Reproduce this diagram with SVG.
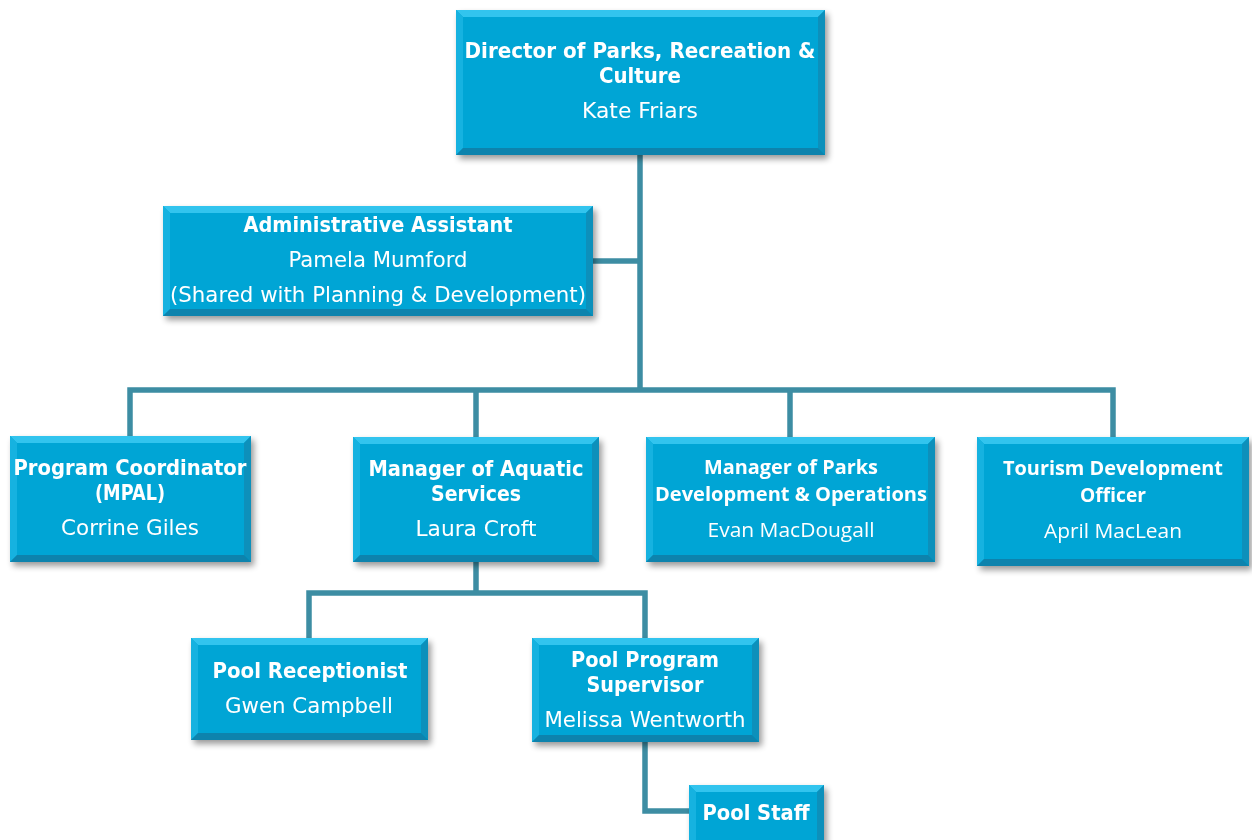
<svg xmlns="http://www.w3.org/2000/svg" width="1252" height="840" viewBox="0 0 1252 840">
  <defs>
    <filter id="shadow" x="-10%" y="-10%" width="125%" height="130%">
      <feGaussianBlur in="SourceAlpha" stdDeviation="3"/>
      <feOffset dx="3" dy="4" result="blur"/>
      <feComponentTransfer><feFuncA type="linear" slope="0.4"/></feComponentTransfer>
      <feMerge><feMergeNode/><feMergeNode in="SourceGraphic"/></feMerge>
    </filter>
  </defs>
  <style>
    .box { fill: #06A5D5; }
    .bt { fill: #30C4EE; }
    .bl { fill: #18B2E0; }
    .br { fill: #0790BB; }
    .bb { fill: #0783AD; }
    .link { fill: none; stroke: #3D8DA3; stroke-width: 5.5; stroke-linejoin: miter; }
    text { fill: #FFFFFF; text-anchor: middle; font-family: "DejaVu Sans", "Open Sans", sans-serif; }
    .t { font-weight: bold; font-size: 22px; }
    .n { font-size: 22px; }
    .tc { font-family: "Open Sans", "Lato", sans-serif; font-weight: bold; font-size: 20px; }
    .nc { font-family: "Open Sans", "Lato", sans-serif; font-size: 20px; }
  </style>

  <rect width="1252" height="840" fill="#FFFFFF"/>

  <!-- connectors -->
  <g id="connectors">
    <path class="link" d="M640,155 V390"/>
    <path class="link" d="M593,261 H640"/>
    <path class="link" d="M130,437 V390 H1113 V437"/>
    <path class="link" d="M476,390 V437"/>
    <path class="link" d="M790,390 V437"/>
    <path class="link" d="M476,562 V593"/>
    <path class="link" d="M309,638 V593 H645 V638"/>
    <path class="link" d="M645,742 V811 H689"/>
  </g>

  <!-- Director -->
  <g id="director" filter="url(#shadow)">
    <g transform="translate(456,10)">
      <rect class="box" width="369" height="145"/>
      <polygon class="bt" points="0,0 369,0 362,7 7,7"/>
      <polygon class="bl" points="0,0 7,7 7,138 0,145"/>
      <polygon class="br" points="369,0 369,145 362,138 362,7"/>
      <polygon class="bb" points="0,145 369,145 362,138 7,138"/>
    </g>
    <text class="t" x="640" y="58" textLength="351" lengthAdjust="spacingAndGlyphs">Director of Parks, Recreation &amp;</text>
    <text class="t" x="640" y="83" textLength="82" lengthAdjust="spacingAndGlyphs">Culture</text>
    <text class="n" x="640" y="118" textLength="116" lengthAdjust="spacingAndGlyphs">Kate Friars</text>
  </g>

  <!-- Administrative Assistant -->
  <g id="admin" filter="url(#shadow)">
    <g transform="translate(163,206)">
      <rect class="box" width="430" height="110"/>
      <polygon class="bt" points="0,0 430,0 423,7 7,7"/>
      <polygon class="bl" points="0,0 7,7 7,103 0,110"/>
      <polygon class="br" points="430,0 430,110 423,103 423,7"/>
      <polygon class="bb" points="0,110 430,110 423,103 7,103"/>
    </g>
    <text class="t" x="378" y="232" textLength="269" lengthAdjust="spacingAndGlyphs">Administrative Assistant</text>
    <text class="n" x="378" y="267" textLength="179" lengthAdjust="spacingAndGlyphs">Pamela Mumford</text>
    <text class="n" x="378" y="302" textLength="416" lengthAdjust="spacingAndGlyphs">(Shared with Planning &amp; Development)</text>
  </g>

  <!-- Program Coordinator -->
  <g id="program-coordinator" filter="url(#shadow)">
    <g transform="translate(10,436)">
      <rect class="box" width="241" height="126"/>
      <polygon class="bt" points="0,0 241,0 234,7 7,7"/>
      <polygon class="bl" points="0,0 7,7 7,119 0,126"/>
      <polygon class="br" points="241,0 241,126 234,119 234,7"/>
      <polygon class="bb" points="0,126 241,126 234,119 7,119"/>
    </g>
    <text class="t" x="130" y="475" textLength="233" lengthAdjust="spacingAndGlyphs">Program Coordinator</text>
    <text class="t" x="130" y="500" textLength="70" lengthAdjust="spacingAndGlyphs">(MPAL)</text>
    <text class="n" x="130" y="535" textLength="138" lengthAdjust="spacingAndGlyphs">Corrine Giles</text>
  </g>

  <!-- Manager of Aquatic Services -->
  <g id="aquatic-manager" filter="url(#shadow)">
    <g transform="translate(353,437)">
      <rect class="box" width="246" height="125"/>
      <polygon class="bt" points="0,0 246,0 239,7 7,7"/>
      <polygon class="bl" points="0,0 7,7 7,118 0,125"/>
      <polygon class="br" points="246,0 246,125 239,118 239,7"/>
      <polygon class="bb" points="0,125 246,125 239,118 7,118"/>
    </g>
    <text class="t" x="476" y="476" textLength="215" lengthAdjust="spacingAndGlyphs">Manager of Aquatic</text>
    <text class="t" x="476" y="501" textLength="90" lengthAdjust="spacingAndGlyphs">Services</text>
    <text class="n" x="476" y="536" textLength="121" lengthAdjust="spacingAndGlyphs">Laura Croft</text>
  </g>

  <!-- Manager of Parks Development & Operations -->
  <g id="parks-manager" filter="url(#shadow)">
    <g transform="translate(646,437)">
      <rect class="box" width="289" height="125"/>
      <polygon class="bt" points="0,0 289,0 282,7 7,7"/>
      <polygon class="bl" points="0,0 7,7 7,118 0,125"/>
      <polygon class="br" points="289,0 289,125 282,118 282,7"/>
      <polygon class="bb" points="0,125 289,125 282,118 7,118"/>
    </g>
    <text class="tc" x="791" y="474" textLength="174" lengthAdjust="spacingAndGlyphs">Manager of Parks</text>
    <text class="tc" x="791" y="501" textLength="272" lengthAdjust="spacingAndGlyphs">Development &amp; Operations</text>
    <text class="nc" x="791" y="537" textLength="167" lengthAdjust="spacingAndGlyphs">Evan MacDougall</text>
  </g>

  <!-- Tourism Development Officer -->
  <g id="tourism-officer" filter="url(#shadow)">
    <g transform="translate(977,437)">
      <rect class="box" width="272" height="129"/>
      <polygon class="bt" points="0,0 272,0 265,7 7,7"/>
      <polygon class="bl" points="0,0 7,7 7,122 0,129"/>
      <polygon class="br" points="272,0 272,129 265,122 265,7"/>
      <polygon class="bb" points="0,129 272,129 265,122 7,122"/>
    </g>
    <text class="tc" x="1113" y="475" textLength="220" lengthAdjust="spacingAndGlyphs">Tourism Development</text>
    <text class="tc" x="1113" y="502" textLength="66" lengthAdjust="spacingAndGlyphs">Officer</text>
    <text class="nc" x="1113" y="538" textLength="138" lengthAdjust="spacingAndGlyphs">April MacLean</text>
  </g>

  <!-- Pool Receptionist -->
  <g id="pool-receptionist" filter="url(#shadow)">
    <g transform="translate(191,638)">
      <rect class="box" width="237" height="102"/>
      <polygon class="bt" points="0,0 237,0 230,7 7,7"/>
      <polygon class="bl" points="0,0 7,7 7,95 0,102"/>
      <polygon class="br" points="237,0 237,102 230,95 230,7"/>
      <polygon class="bb" points="0,102 237,102 230,95 7,95"/>
    </g>
    <text class="t" x="310" y="678" textLength="195" lengthAdjust="spacingAndGlyphs">Pool Receptionist</text>
    <text class="n" x="309" y="713" textLength="168" lengthAdjust="spacingAndGlyphs">Gwen Campbell</text>
  </g>

  <!-- Pool Program Supervisor -->
  <g id="pool-supervisor" filter="url(#shadow)">
    <g transform="translate(532,638)">
      <rect class="box" width="227" height="104"/>
      <polygon class="bt" points="0,0 227,0 220,7 7,7"/>
      <polygon class="bl" points="0,0 7,7 7,97 0,104"/>
      <polygon class="br" points="227,0 227,104 220,97 220,7"/>
      <polygon class="bb" points="0,104 227,104 220,97 7,97"/>
    </g>
    <text class="t" x="645" y="667" textLength="148" lengthAdjust="spacingAndGlyphs">Pool Program</text>
    <text class="t" x="645" y="692" textLength="117" lengthAdjust="spacingAndGlyphs">Supervisor</text>
    <text class="n" x="645" y="727" textLength="201" lengthAdjust="spacingAndGlyphs">Melissa Wentworth</text>
  </g>

  <!-- Pool Staff -->
  <g id="pool-staff" filter="url(#shadow)">
    <g transform="translate(689,785)">
      <rect class="box" width="135" height="62"/>
      <polygon class="bt" points="0,0 135,0 128,7 7,7"/>
      <polygon class="bl" points="0,0 7,7 7,55 0,62"/>
      <polygon class="br" points="135,0 135,62 128,55 128,7"/>
    </g>
    <text class="t" x="756" y="820" textLength="107" lengthAdjust="spacingAndGlyphs">Pool Staff</text>
  </g>
</svg>
